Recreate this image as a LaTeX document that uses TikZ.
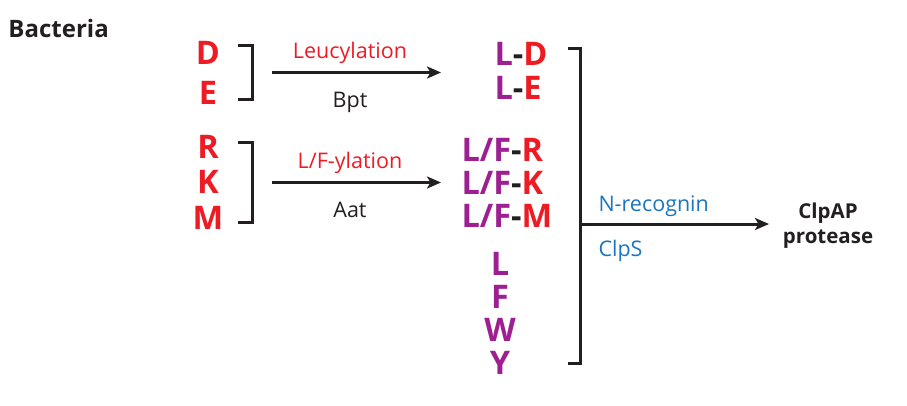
\documentclass[tikz,border=0pt]{standalone}
\usepackage{fontspec}
\setmainfont{Open Sans}
\usetikzlibrary{arrows.meta,positioning}
\definecolor{aared}{RGB}{237,28,36}
\definecolor{aapurple}{RGB}{158,31,146}
\definecolor{enzblue}{RGB}{28,117,188}
\definecolor{inkblack}{RGB}{35,31,32}
\begin{document}
\begin{tikzpicture}[x=1pt, y=-1pt, line width=3pt, draw=inkblack, text=inkblack,
  big node/.style={font=\fontsize{32.5}{32.5}\selectfont\bfseries, inner sep=0pt, anchor=base},
  lab node/.style={font=\fontsize{21.5}{21.5}\selectfont, inner sep=0pt, anchor=base},
  conv/.style={-{Stealth[length=14pt,width=12pt,inset=3.5pt]}, line width=3pt}]
\useasboundingbox (0,0) rectangle (907,405);
\node[font=\fontsize{24}{24}\selectfont\bfseries, inner sep=0pt, anchor=base west] (bact) at (7,37) {Bacteria};
% residues before conversion
\begin{scope}[every node/.style={big node, text=aared}]
\node (aD) at (208,64.5) {D};
\node (aE) at (208,104) {E};
\node (aR) at (208,158.5) {R};
\node (aK) at (208,193.5) {K};
\node (aM) at (208,229) {M};
\end{scope}
% residues after conversion
\begin{scope}[every node/.style={big node, anchor=base west, text=aared}]
\node (pD) at (493,65.5) {\textcolor{aapurple}{L}\textcolor{inkblack}{-}D};
\node (pE) at (493,99.5) {\textcolor{aapurple}{L}\textcolor{inkblack}{-}E};
\node (pR) at (460,161.5) {\textcolor{aapurple}{L/F}\textcolor{inkblack}{-}R};
\node (pK) at (460,194.5) {\textcolor{aapurple}{L/F}\textcolor{inkblack}{-}K};
\node (pM) at (460,227.5) {\textcolor{aapurple}{L/F}\textcolor{inkblack}{-}M};
\end{scope}
\begin{scope}[every node/.style={big node, text=aapurple}]
\node (nL) at (500,275) {L};
\node (nF) at (500,308) {F};
\node (nW) at (500,341) {W};
\node (nY) at (500,374) {Y};
\end{scope}
% brackets
\draw (238,45) -| (252,99.5) -- (238,99.5);
\draw (238,142.5) -| (252,222.5) -- (238,222.5);
\draw (568,48) -| (580,363) -- (568,363);
% conversions
\coordinate (leu s) at (272,72.5);
\coordinate (leu e) at (441,72.5);
\coordinate (lf s) at (272,182.5);
\coordinate (lf e) at (441,182.5);
\coordinate (hub) at (580,224);
\coordinate (clp in) at (769,224);
\draw[conv] (leu s) -- (leu e);
\draw[conv] (lf s) -- (lf e);
\draw[conv] (hub) -- (clp in);
\node[lab node, text=aared] (leu) at (350,58) {Leucylation};
\node[lab node] (bpt) at (350,107) {Bpt};
\node[lab node, text=aared] (lfyl) at (350,168) {L/F-ylation};
\node[lab node] (aat) at (350,217) {Aat};
\node[lab node, anchor=base west, text=enzblue] (nrec) at (597,211.5) {N-recognin};
\node[lab node, anchor=base west, text=enzblue] (clps) at (597,256) {ClpS};
\begin{scope}[every node/.style={font=\fontsize{20.5}{20.5}\selectfont\bfseries, inner sep=0pt, anchor=base}]
\node (clpap) at (828,218) {ClpAP};
\node (prot) at (828,243) {protease};
\end{scope}
\end{tikzpicture}
\end{document}
